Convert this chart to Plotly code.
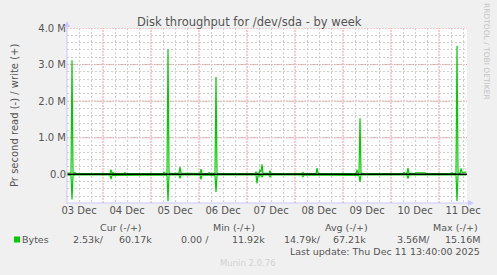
import pandas as pd
import plotly.graph_objects as go

# ---------------- data ----------------
write_times = [
    "2025-12-03 06:00", "2025-12-03 08:00", "2025-12-03 08:30", "2025-12-03 09:00", "2025-12-03 09:30",
    "2025-12-03 10:00", "2025-12-03 10:30", "2025-12-03 17:00", "2025-12-03 17:30", "2025-12-03 18:00",
    "2025-12-04 03:30", "2025-12-04 04:00", "2025-12-04 04:30", "2025-12-04 05:00", "2025-12-04 05:30",
    "2025-12-04 10:30", "2025-12-04 11:00", "2025-12-04 11:30", "2025-12-05 06:00", "2025-12-05 06:30",
    "2025-12-05 07:00", "2025-12-05 08:00", "2025-12-05 08:30", "2025-12-05 09:00", "2025-12-05 09:30",
    "2025-12-05 14:00", "2025-12-05 14:30", "2025-12-05 15:00", "2025-12-06 00:30", "2025-12-06 01:00",
    "2025-12-06 01:30", "2025-12-06 04:30", "2025-12-06 05:00", "2025-12-06 05:30", "2025-12-06 08:00",
    "2025-12-06 08:30", "2025-12-06 09:00", "2025-12-06 09:30", "2025-12-07 04:00", "2025-12-07 04:30",
    "2025-12-07 05:00", "2025-12-07 06:00", "2025-12-07 06:30", "2025-12-07 07:00", "2025-12-07 07:30",
    "2025-12-07 08:00", "2025-12-07 11:00", "2025-12-07 11:30", "2025-12-07 12:00", "2025-12-08 03:30",
    "2025-12-08 04:00", "2025-12-08 04:30", "2025-12-08 10:30", "2025-12-08 11:00", "2025-12-08 11:30",
    "2025-12-08 12:00", "2025-12-08 16:00", "2025-12-08 16:30", "2025-12-08 17:00", "2025-12-09 01:30",
    "2025-12-09 02:00", "2025-12-09 02:30", "2025-12-09 06:30", "2025-12-09 07:00", "2025-12-09 07:30",
    "2025-12-09 08:00", "2025-12-09 08:30", "2025-12-09 09:00", "2025-12-09 09:30", "2025-12-10 06:00",
    "2025-12-10 06:30", "2025-12-10 07:00", "2025-12-10 08:00", "2025-12-10 08:30", "2025-12-10 09:00",
    "2025-12-10 12:00", "2025-12-10 12:30", "2025-12-10 17:00", "2025-12-10 17:30", "2025-12-11 06:00",
    "2025-12-11 06:30", "2025-12-11 07:00", "2025-12-11 08:30", "2025-12-11 09:00", "2025-12-11 09:30",
    "2025-12-11 10:30", "2025-12-11 11:00", "2025-12-11 11:30", "2025-12-11 13:30",
]
write_mb = [
    0.03, 0.04, 3.12, 0.04, 0.02,
    0.05, 0.02, 0.02, 0.03, 0.02,
    0.02, 0.13, 0.03, 0.05, 0.02,
    0.02, 0.04, 0.02, 0.02, 0.06,
    0.02, 0.03, 3.42, 0.04, 0.02,
    0.03, 0.20, 0.03, 0.02, 0.14,
    0.02, 0.02, 0.04, 0.02, 0.03,
    2.66, 0.03, 0.02, 0.02, 0.06,
    0.02, 0.04, 0.12, 0.06, 0.27,
    0.03, 0.02, 0.10, 0.02, 0.02,
    0.05, 0.02, 0.02, 0.17, 0.04,
    0.02, 0.02, 0.04, 0.02, 0.02,
    0.03, 0.02, 0.02, 0.13, 0.03,
    0.04, 1.53, 0.04, 0.02, 0.02,
    0.05, 0.02, 0.03, 0.17, 0.03,
    0.02, 0.04, 0.04, 0.02, 0.02,
    0.04, 0.02, 0.03, 3.51, 0.04,
    0.03, 0.16, 0.05, 0.06,
]

read_times = [
    "2025-12-03 06:00", "2025-12-03 08:00", "2025-12-03 08:30", "2025-12-03 09:00", "2025-12-03 10:00",
    "2025-12-04 03:30", "2025-12-04 04:00", "2025-12-04 04:30", "2025-12-05 08:00", "2025-12-05 08:30",
    "2025-12-05 09:00", "2025-12-05 14:00", "2025-12-05 14:30", "2025-12-05 15:00", "2025-12-06 00:30",
    "2025-12-06 01:00", "2025-12-06 01:30", "2025-12-06 08:00", "2025-12-06 08:30", "2025-12-06 09:00",
    "2025-12-07 04:30", "2025-12-07 05:00", "2025-12-07 05:30", "2025-12-07 06:00", "2025-12-07 07:00",
    "2025-12-07 07:30", "2025-12-07 08:00", "2025-12-07 11:00", "2025-12-07 11:30", "2025-12-07 12:00",
    "2025-12-08 03:30", "2025-12-08 04:00", "2025-12-08 04:30", "2025-12-09 08:00", "2025-12-09 08:30",
    "2025-12-09 09:00", "2025-12-10 08:00", "2025-12-10 08:30", "2025-12-10 09:00", "2025-12-11 08:30",
    "2025-12-11 09:00", "2025-12-11 09:30", "2025-12-11 13:30",
]
read_mb = [
    -0.02, -0.03, -0.69, -0.03, -0.02,
    -0.02, -0.13, -0.03, -0.02, -0.74,
    -0.02, -0.02, -0.11, -0.02, -0.02,
    -0.14, -0.02, -0.03, -0.48, -0.02,
    -0.02, -0.25, -0.03, -0.05, -0.02,
    -0.08, -0.02, -0.02, -0.08, -0.02,
    -0.02, -0.07, -0.02, -0.03, -0.21,
    -0.02, -0.02, -0.12, -0.02, -0.02,
    -0.73, -0.02, -0.02,
]

y_tick_vals = [0, 1, 2, 3, 4]
y_tick_text = ["0.0", "1.0 M", "2.0 M", "3.0 M", "4.0 M"]

legend_headers = ["Cur (-/+)", "Min (-/+)", "Avg (-/+)", "Max (-/+)"]
legend_values = ["2.53k/", "60.17k", "0.00 /", "11.92k", "14.79k/", "67.21k", "3.56M/", "15.16M"]

x_start = "2025-12-03 06:00"
x_end = "2025-12-11 14:00"

# ---------------- layout helpers ----------------
W, H = 497, 275
L, R, T, B = 67, 467, 28, 203


def px(x):
    return (x - L) / (R - L)


def py(y):
    return (B - y) / (B - T)


GREEN = "#00CC00"
TXT = "#555555"
FONT = "DejaVu Sans"
MAJ = "#F09A9A"
MIN = "#CFCFCF"

fig = go.Figure()
fig.add_trace(go.Scatter(x=write_times, y=write_mb, mode="lines",
                         line=dict(color=GREEN, width=1.2), showlegend=False))
fig.add_trace(go.Scatter(x=read_times, y=read_mb, mode="lines",
                         line=dict(color=GREEN, width=1.2), showlegend=False))

fig.update_layout(
    width=W, height=H,
    margin=dict(l=L, r=W - R, t=T, b=H - B, pad=0),
    paper_bgcolor="#F0F0F0",
    plot_bgcolor="#FFFFFF",
    font=dict(family=FONT, color=TXT, size=10),
    showlegend=False,
)

fig.update_xaxes(
    type="date", range=[x_start, x_end],
    tick0="2025-12-03 00:00", dtick=86400000,
    ticklabelmode="period", tickformat="%d %b",
    showgrid=False,
    minor=dict(dtick=21600000, tick0="2025-12-03 00:00", showgrid=True,
               gridcolor=MIN, griddash="2px,2px", gridwidth=1),
    showline=False, zeroline=False, ticks="",
    tickfont=dict(size=10, color=TXT, family=FONT),
)
fig.update_yaxes(
    range=[-0.785, 4.0],
    tickvals=y_tick_vals, ticktext=y_tick_text,
    showgrid=False,
    minor=dict(dtick=0.2, tick0=0.0, showgrid=True,
               gridcolor=MIN, griddash="2px,2px", gridwidth=1),
    showline=False, zeroline=False, ticks="",
    tickfont=dict(size=10, color=TXT, family=FONT),
)

AX = "#C8C8FF"
shapes = []
# major grid (drawn as shapes so they sit above the minor grid)
for v in y_tick_vals[1:]:
    shapes.append(dict(type="line", xref="paper", yref="y", x0=0, x1=1, y0=v, y1=v,
                       line=dict(color=MAJ, width=1, dash="2px,1px"), layer="below"))
for d in pd.date_range("2025-12-04", "2025-12-11", freq="D"):
    ds = d.strftime("%Y-%m-%d %H:%M")
    shapes.append(dict(type="line", xref="x", yref="paper", x0=ds, x1=ds, y0=0, y1=1,
                       line=dict(color=MAJ, width=1, dash="2px,1px"), layer="below"))
shapes += [
    # zero line
    dict(type="line", xref="paper", yref="y", x0=0, x1=1, y0=0, y1=0,
         line=dict(color="#000000", width=1.6), layer="above"),
    # left axis
    dict(type="line", xref="paper", yref="paper", x0=0, x1=0, y0=0, y1=py(24),
         line=dict(color=AX, width=1), layer="above"),
    # bottom axis
    dict(type="line", xref="paper", yref="paper", x0=0, x1=px(471), y0=0, y1=0,
         line=dict(color=AX, width=1), layer="above"),
    # arrows
    dict(type="path", xref="paper", yref="paper",
         path=f"M {px(64)} {py(27)} L {px(70)} {py(27)} L {px(67)} {py(21)} Z",
         fillcolor=AX, line=dict(color=AX, width=0)),
    dict(type="path", xref="paper", yref="paper",
         path=f"M {px(468)} {py(200)} L {px(468)} {py(206)} L {px(474)} {py(203)} Z",
         fillcolor=AX, line=dict(color=AX, width=0)),
    # legend colour box
    dict(type="rect", xref="paper", yref="paper",
         x0=px(14), x1=px(20), y0=py(242.5), y1=py(236.5),
         fillcolor=GREEN, line=dict(width=0)),
]
fig.update_layout(shapes=shapes)

ann = []


def text(x, y, s, xanchor="left", size=9.5, color=TXT, angle=0):
    ann.append(dict(x=px(x), y=py(y), xref="paper", yref="paper", text=s,
                    showarrow=False, xanchor=xanchor, yanchor="middle",
                    textangle=angle, font=dict(family=FONT, size=size, color=color)))


text(249, 21.5, "Disk throughput for /dev/sda - by week", "center", size=11.5)
text(14, 116, "Pr second read (-) / write (+)", "center", size=10, angle=-90)
text(487, 51, "RRDTOOL / TOBI OETIKER", "center", size=7.5, color="#C4C4C4", angle=90)

header_x = [121, 234, 346, 480]
header_anchor = ["center", "center", "center", "right"]
for hx, ha, h in zip(header_x, header_anchor, legend_headers):
    text(hx, 227.5, h, ha)

text(20, 239.5, "Bytes", "left")
value_right = [106, 154, 211, 267, 323, 368, 432, 482]
for vx, v in zip(value_right, legend_values):
    text(vx, 239.5, v, "right")

text(482, 251.5, "Last update: Thu Dec 11 13:40:00 2025", "right")
text(248, 263, "Munin 2.0.76", "center", size=8.5, color="#D2D2D2")

fig.update_layout(annotations=ann)

fig.write_html("out.html")
